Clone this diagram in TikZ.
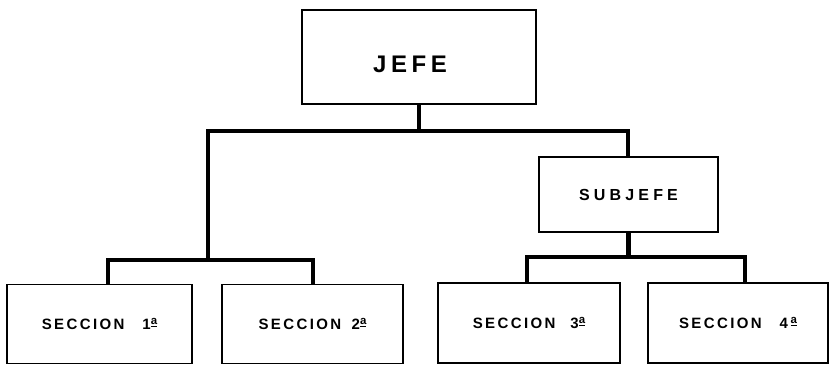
\documentclass[tikz,border=0pt]{standalone}
\usepackage{fontspec}
\setmainfont{Liberation Sans}
\newfontfamily\spacedA[LetterSpace=16]{Liberation Sans Bold}
\newfontfamily\spacedB[LetterSpace=26]{Liberation Sans Bold}
\newfontfamily\spacedC[LetterSpace=19]{Liberation Sans Bold}
\newcommand{\ordA}{\raisebox{0.3em}{\fontsize{11.5}{11.5}\selectfont\underline{a}}}
\begin{document}
\begin{tikzpicture}[x=1pt,y=-1pt,
  box/.style={draw=black,line width=1.3pt,rectangle,inner sep=0pt},
  conn/.style={draw=black,line width=4.5pt,line join=miter,line cap=butt},
  sec/.style={box,minimum height=79pt,font=\spacedA\fontsize{15}{17}\selectfont}]
\useasboundingbox (0,0) rectangle (829,365);
\node[box,minimum width=234pt,minimum height=94pt,font=\spacedC\fontsize{24}{27}\selectfont] (jefe) at (419,57) {\raisebox{-15pt}[0pt][0pt]{\makebox[0pt]{\hspace*{-18pt}JEFE}}};
\node[box,minimum width=179pt,minimum height=75pt,font=\spacedB\fontsize{16}{19}\selectfont] (sub) at (628.5,194.5) {SUBJEFE};
\node[sec,minimum width=185pt] (b1) at (99.5,324) {SECCION\hspace{1.2em}1\ordA};
\node[sec,minimum width=181pt] (b2) at (312.5,324) {SECCION\hspace{0.7em}2\ordA};
\node[sec,minimum width=182pt,minimum height=80pt] (b3) at (529,323) {SECCION\hspace{1em}3\ordA};
\node[sec,minimum width=180pt,minimum height=80pt] (b4) at (738,323) {SECCION\hspace{1.2em}4\,\ordA};
\coordinate (t1) at (208,131);
\coordinate (t2) at (628,131);
\coordinate (l1) at (108,260);
\coordinate (l2) at (313,260);
\coordinate (r1) at (527,257);
\coordinate (r2) at (745,257);
\draw[conn] (jefe.south) -- (jefe.south |- t1);
\draw[conn] (t1 |- l1) -- (t1) -- (t2) -- (t2 |- sub.north);
\draw[conn] (l1 |- b1.north) -- (l1) -- (l2) -- (l2 |- b2.north);
\draw[conn] (sub.south) -- (sub.south |- r1);
\draw[conn] (r1 |- b3.north) -- (r1) -- (r2) -- (r2 |- b4.north);
\end{tikzpicture}
\end{document}
